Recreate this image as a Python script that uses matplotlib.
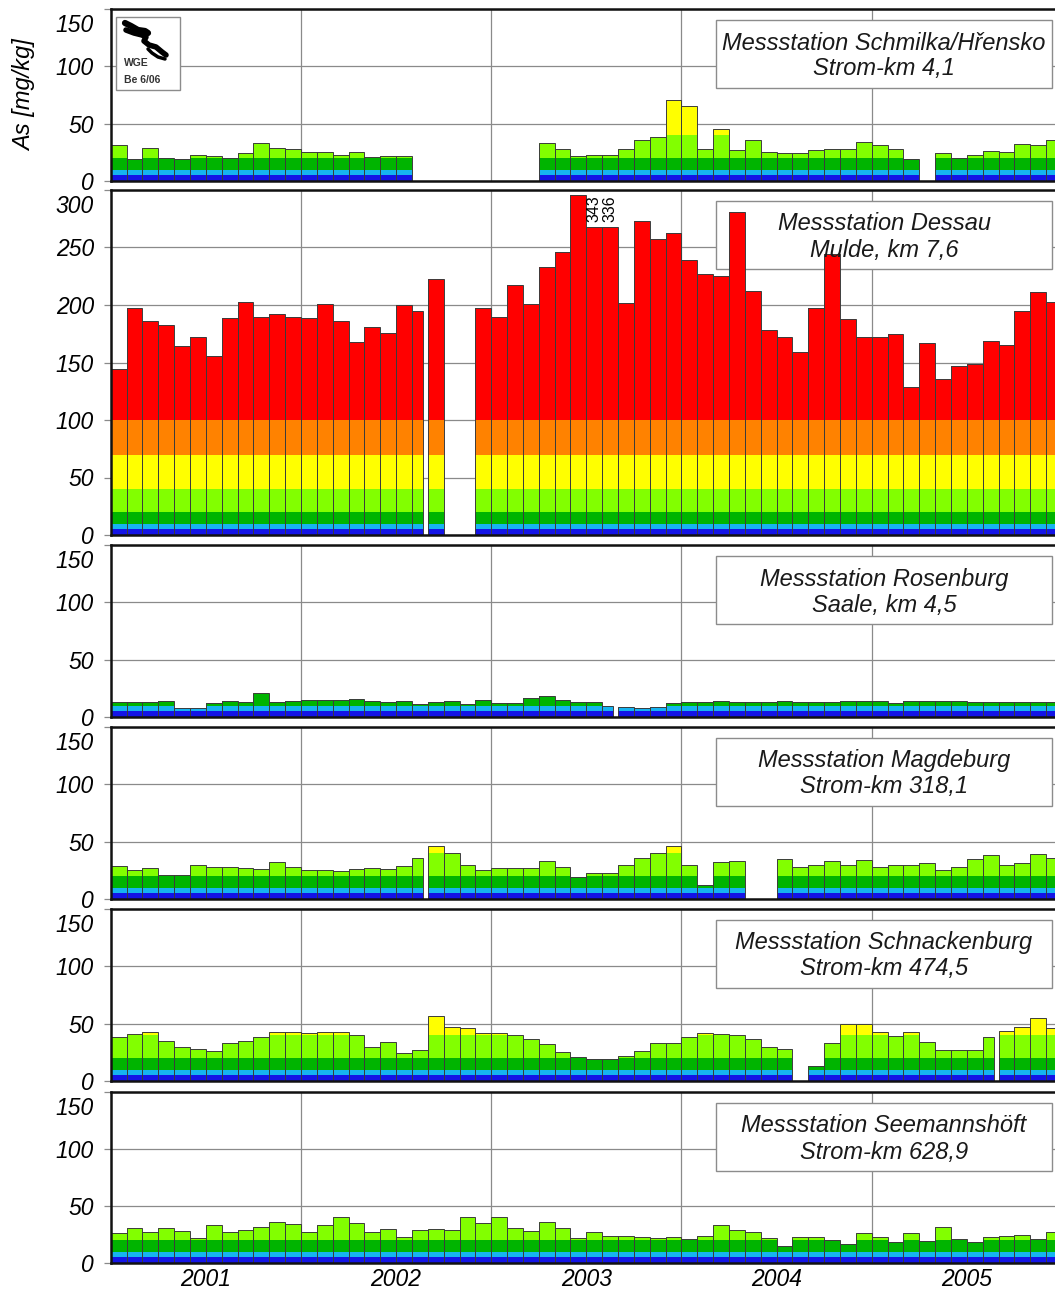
import numpy as np
import matplotlib
matplotlib.use("Agg")
import matplotlib.pyplot as plt
from matplotlib.patches import Rectangle
from matplotlib.transforms import ScaledTranslation, blended_transform_factory

# ---------------------------------------------------------------- data
years = ["2001", "2002", "2003", "2004", "2005"]

# quality class limits for arsenic [mg/kg] and their colours
class_limits = [0, 5, 10, 20, 40, 70, 100, 1e9]
class_colors = ["#1414e6", "#16b4f0", "#00b400", "#82ff00",
                "#ffff00", "#ff8200", "#ff0000"]

N = None
schmilka = [31, 19, 29, 20, 19, 23, 22, 20, 24, 33, 29, 28,
            25, 25, 23, 25, 21, 22, 22, N, N, N, N, N,
            N, N, N, 33, 28, 22, 23, 23, 28, 36, 38, 71,
            65, 28, 45, 27, 36, 25, 24, 24, 27, 28, 28, 34,
            31, 28, 19, N, 24, 20, 23, 26, 25, 32, 31, 36]

dessau = [144, 197, 186, 183, 164, 172, 156, 189, 203, 190, 192, 190,
          189, 201, 186, 168, 181, 176, 200, 195, 223, N, N, 197,
          190, 217, 201, 233, 246, 296, 343, 336, 202, 273, 257, 263,
          239, 227, 225, 281, 212, 178, 172, 159, 197, 244, 188, 172,
          172, 175, 129, 167, 136, 147, 149, 169, 165, 195, 211, 203]

rosenburg = [13, 13, 13, 14, 8, 8, 12, 14, 13, 21, 13, 14,
             15, 15, 15, 16, 14, 13, 14, 11, 13, 14, 11, 15,
             12, 12, 17, 18, 15, 13, 13, 10, 9, 8, 9, 12,
             13, 13, 14, 13, 13, 13, 14, 13, 13, 13, 14, 14,
             14, 12, 14, 14, 14, 14, 13, 13, 13, 13, 13, 13]

magdeburg = [29, 25, 27, 21, 21, 30, 28, 28, 27, 26, 32, 28,
             25, 25, 24, 26, 27, 26, 29, 36, 46, 40, 30, 25,
             27, 27, 27, 33, 28, 19, 23, 23, 30, 36, 40, 46,
             30, 12, 32, 33, N, N, 35, 28, 30, 33, 30, 34,
             28, 30, 30, 31, 25, 28, 35, 38, 30, 31, 39, 36]

schnackenburg = [38, 41, 43, 35, 30, 28, 26, 33, 35, 38, 43, 43,
                 42, 43, 43, 40, 30, 34, 24, 27, 57, 47, 46, 42,
                 42, 40, 37, 32, 25, 21, 19, 19, 22, 26, 33, 33,
                 38, 42, 41, 40, 37, 30, 28, N, 13, 33, 50, 50,
                 43, 39, 43, 34, 27, 27, 27, 38, 44, 47, 55, 46]

seemannshoeft = [26, 31, 27, 31, 28, 22, 33, 27, 29, 32, 36, 34,
                 27, 33, 40, 35, 27, 30, 23, 29, 30, 29, 40, 35,
                 40, 31, 28, 36, 31, 22, 27, 24, 24, 23, 22, 23,
                 21, 24, 33, 29, 27, 22, 15, 23, 23, 20, 17, 26,
                 23, 18, 26, 19, 32, 21, 18, 23, 24, 25, 21, 27]

# months whose sampling period ended early (short break before the next sample)
short_months = {1: [19], 2: [31], 3: [19], 4: [55]}

stations = [
    ("Messstation Schmilka/H\u0159ensko", "Strom-km 4,1", schmilka, 150),
    ("Messstation Dessau", "Mulde, km 7,6", dessau, 300),
    ("Messstation Rosenburg", "Saale, km 4,5", rosenburg, 150),
    ("Messstation Magdeburg", "Strom-km 318,1", magdeburg, 150),
    ("Messstation Schnackenburg", "Strom-km 474,5", schnackenburg, 150),
    ("Messstation Seemannsh\u00f6ft", "Strom-km 628,9", seemannshoeft, 150),
]

# bars beyond the axis range are shortened to this height and labelled
offscale_height = {1: 268}

# ---------------------------------------------------------------- layout
W, H, DPI = 1055, 1292, 100
plt.rcParams["font.family"] = ["Liberation Sans", "DejaVu Sans"]
fig = plt.figure(figsize=(W / DPI, H / DPI), dpi=DPI)

x_left, x_right = 110.7, 1062.0
panel_px = [(9, 181), (190, 535), (545, 717), (727, 899), (909, 1081), (1092, 1263)]

def fx(px):
    return px / W

def fy(py):
    return 1 - py / H

tick_font = dict(fontsize=16.5, style="italic")
grid_c = "#8a8a8a"
edge_c = "#3c3c3c"

axes = []
for k, ((top, bot), (name, km, vals, ymax)) in enumerate(zip(panel_px, stations)):
    ax = fig.add_axes([fx(x_left), fy(bot), fx(x_right) - fx(x_left), (bot - top) / H])
    axes.append(ax)
    ax.set_xlim(0, 60)
    ax.set_ylim(0, ymax)
    ax.set_axisbelow(True)

    months = np.arange(60)
    v = np.array([np.nan if x is None else x for x in vals], dtype=float)
    over = v > ymax
    shown = np.where(over, offscale_height.get(k, ymax), v)
    widths = np.ones(60)
    widths[short_months.get(k, [])] = 0.7
    valid = ~np.isnan(shown)
    m, s, w = months[valid], shown[valid], widths[valid]
    for lo, hi, col in zip(class_limits[:-1], class_limits[1:], class_colors):
        h = np.minimum(s, hi) - lo
        sel = h > 0
        ax.bar(m[sel], h[sel], bottom=lo, width=w[sel], align="edge",
               color=col, linewidth=0, zorder=3)
    ax.bar(m, s, width=w, align="edge", fill=False,
           edgecolor=edge_c, linewidth=0.7, zorder=4)

    # value labels for shortened bars
    for i in np.where(over)[0]:
        ax.text(i + 0.5, shown[i] + 4, f"{int(v[i])}", rotation=90, ha="center",
                va="bottom", fontsize=11.5, zorder=6)

    # grid and ticks
    ax.set_yticks(np.arange(0, ymax + 1, 50))
    ax.set_xticks([12, 24, 36, 48])
    ax.grid(True, color=grid_c, linewidth=0.9, zorder=0)
    ax.tick_params(axis="x", length=0, labelbottom=False)
    ax.tick_params(axis="y", length=5, width=0.9, color=grid_c, pad=7)
    for lab in ax.get_yticklabels():
        lab.set_fontsize(16.5)
        lab.set_fontstyle("italic")
    top_tick = ax.yaxis.get_major_ticks()[-1]
    top_tick.label1.set_transform(top_tick.label1.get_transform() +
                                  ScaledTranslation(0, -14 / DPI, fig.dpi_scale_trans))
    for sp in ax.spines.values():
        sp.set_linewidth(1.8)
        sp.set_color("#111111")
        sp.set_zorder(7)

    # station label box
    bx0, bx1 = 716, 1052
    by0 = top + 11
    by1 = by0 + 68
    box = Rectangle((fx(bx0), fy(by1)), fx(bx1) - fx(bx0), (by1 - by0) / H,
                    transform=fig.transFigure, facecolor="white",
                    edgecolor="#8c8c8c", linewidth=1.0)
    ax.add_artist(box)
    box.set_zorder(2)
    cx = fx((bx0 + bx1) / 2)
    ax.text(cx, fy(by0 + 23), name, transform=fig.transFigure, ha="center",
            va="center", fontsize=17, style="italic", color="#1a1a1a", zorder=8)
    ax.text(cx, fy(by0 + 49), km, transform=fig.transFigure, ha="center",
            va="center", fontsize=17, style="italic", color="#1a1a1a", zorder=8)

# year labels under the last panel
last = axes[-1]
trans = blended_transform_factory(last.transData, fig.transFigure)
for j, yr in enumerate(years):
    last.text(6 + 12 * j, fy(1280), yr, transform=trans, ha="center",
              va="center", **tick_font)

# y-axis title
fig.text(fx(25), fy(95), "As [mg/kg]", rotation=90, ha="center",
         va="center", fontsize=17, style="italic")

# logo box in the first panel
logo = Rectangle((fx(116), fy(90)), fx(180) - fx(116), 73 / H,
                 transform=fig.transFigure, facecolor="white",
                 edgecolor="#8c8c8c", linewidth=1.0, zorder=10)
fig.add_artist(logo)

def wave(pts, lw):
    xs = [fx(p[0]) for p in pts]
    ys = [fy(p[1]) for p in pts]
    fig.add_artist(plt.Line2D(xs, ys, transform=fig.transFigure, color="black",
                              linewidth=lw, solid_capstyle="round",
                              solid_joinstyle="round", zorder=11))

wave([(125, 23), (131, 26), (138, 30), (145, 31), (148, 33)], 4.5)
wave([(126, 30), (134, 33), (142, 35), (146, 37), (144, 41), (149, 45), (156, 47), (162, 52), (166, 55)], 4.0)
wave([(148, 49), (152, 53), (158, 57), (165, 59)], 2.5)
fig.text(fx(124), fy(63), "WGE", fontsize=7.5, fontweight="bold",
         color="#333333", va="center", ha="left", zorder=12)
fig.text(fx(124), fy(80), "Be 6/06", fontsize=7.5, fontweight="bold",
         color="#333333", va="center", ha="left", zorder=12)

fig.savefig("out.png", dpi=DPI)
